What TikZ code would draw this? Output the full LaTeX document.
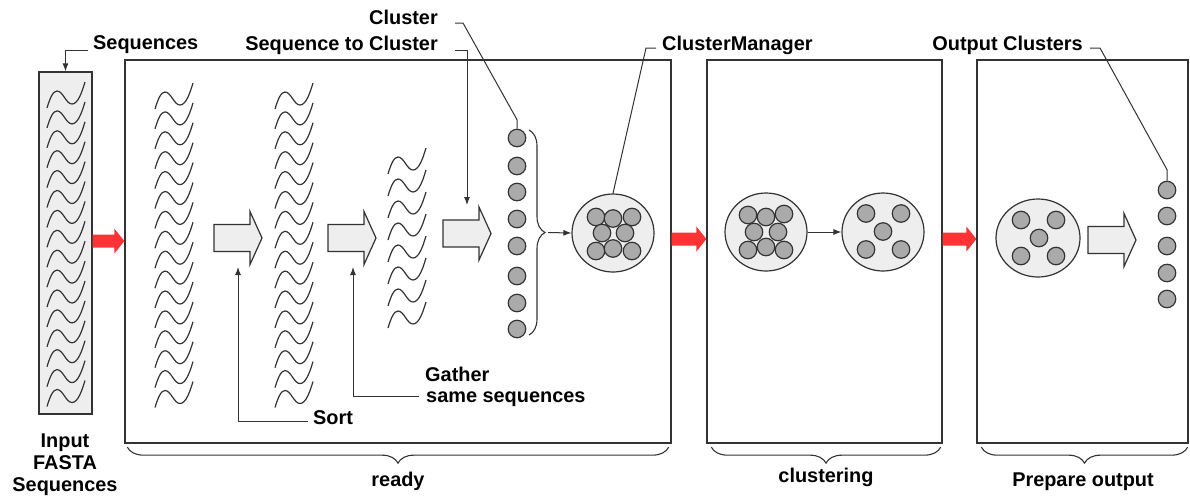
\documentclass[tikz,border=0pt]{standalone}
\usepackage{fontspec}
\setmainfont{Liberation Sans}
\usetikzlibrary{arrows.meta,decorations.pathreplacing,shapes.geometric,calc}

\definecolor{ink}{HTML}{333333}
\definecolor{paper}{HTML}{EEEEEE}
\definecolor{beadgray}{HTML}{AAAAAA}
\definecolor{flow}{HTML}{FF3333}

\tikzset{
  lbl/.style={font=\fontsize{19.9}{22}\selectfont\bfseries, text=black, inner sep=0pt},
  stage/.style={rectangle, draw=ink, line width=1.3pt, fill=white, inner sep=0pt},
  inbox/.style={rectangle, draw=ink, line width=1.3pt, fill=paper, inner sep=0pt},
  bead/.style={circle, draw=ink, fill=beadgray, line width=1.2pt, minimum size=17.5pt, inner sep=0pt},
  pool/.style={ellipse, draw=ink, fill=paper, line width=1.2pt, minimum width=82pt, minimum height=78pt, inner sep=0pt},
  lead/.style={draw=ink, line width=1pt},
  tip/.style={-{Latex[length=8pt,width=6pt]}},
  bigarrow/.style={draw=ink, fill=paper, line width=1.2pt, line join=miter},
  wavestroke/.style={draw=ink, line width=1.2pt},
  curly/.style={draw=ink, line width=1.1pt, decorate, decoration={brace, amplitude=16pt}},
  flowto/.style={to path={let \p1=(\tikztostart), \p2=(\tikztotarget) in
    (\x1,{\y1+6.5pt}) -- ({\x2-10pt},{\y1+6.5pt}) -- ({\x2-10pt},{\y1+12.5pt}) -- (\x2,\y1)
    -- ({\x2-10pt},{\y1-12.5pt}) -- ({\x2-10pt},{\y1-6.5pt}) -- (\x1,{\y1-6.5pt}) -- cycle}},
  wave/.pic={\path[wavestroke] (0,26) .. controls (3,16) and (6,9) .. (10,9)
    .. controls (16,9) and (19,22) .. (25,22) .. controls (31,22) and (35,10) .. (38,0);},
  blockarrow/.pic={\path[bigarrow] (-48,-13.5) -- (-12,-13.5) -- (-12,-26.5) -- (0,0)
    -- (-12,26.5) -- (-12,13.5) -- (-48,13.5) -- cycle;}
}

\begin{document}
\begin{tikzpicture}[x=1pt,y=-1pt]
\useasboundingbox (0,0) rectangle (1190,499);

% stage frames
\node[inbox, minimum width=53pt, minimum height=342pt] (input) at (65.5,243) {};
\node[stage, minimum width=546pt, minimum height=383pt] (ready) at (398,251.5) {};
\node[stage, minimum width=235pt, minimum height=383pt] (clus) at (824.5,251.5) {};
\node[stage, minimum width=211pt, minimum height=383pt] (outp) at (1082.5,251.5) {};

% raw sequences
\foreach \k in {0,...,15} {
  \pic at (47,{82+19.9*\k}) {wave};
  \pic at (155,{83+19.9*\k}) {wave};
  \pic at (275,{83+19.9*\k}) {wave};
}
\foreach \k in {0,...,7} {
  \pic at (388,{148+22*\k}) {wave};
}

% processing arrows
\pic at (262,238) {blockarrow};
\pic at (376,238) {blockarrow};
\pic at (491,233.5) {blockarrow};
\pic at (1136,240) {blockarrow};
\coordinate (a1bot) at (238,267);
\coordinate (a2bot) at (353,267);
\coordinate (a3top) at (467,205);

% flow between stages
\coordinate (r1) at (0,241);
\coordinate (r2) at (0,239);
\fill[flow] (input.east |- r1) to[flowto] (ready.west |- r1);
\fill[flow] (ready.east |- r2) to[flowto] (clus.west |- r2);
\fill[flow] (clus.east |- r2) to[flowto] (outp.west |- r2);

% cluster column
\foreach \i/\y in {1/138,2/166,3/192,4/219,5/246,6/276,7/303,8/329}
  \node[bead] (c\i) at (517,\y) {};
\draw[curly] (529,130) -- (529,335);
\coordinate (btip) at (548,232.5);

% cluster manager
\node[pool] (cm) at (613,233) {};
\foreach \n/\x/\y in {a/596/217,b/613/218.5,c/632/217,d/602/233,e/625/233,f/596/251,g/613/248.5,h/632/251}
  \node[bead] (cm\n) at (\x,\y) {};
\draw[lead, tip] (btip) -- (cm.west);

% clustering stage
\node[pool] (cl1) at (766,232) {};
\foreach \n/\x/\y in {a/748/215,b/766/217,c/784/214,d/754/232,e/778/232,f/748/250,g/766/247,h/784/250}
  \node[bead] (cl1\n) at (\x,\y) {};
\node[pool] (cl2) at (883,232) {};
\foreach \n/\x/\y in {a/866/213.5,b/901/213.5,c/883/231.5,d/866/249.5,e/901/249.5}
  \node[bead] (cl2\n) at (\x,\y) {};
\draw[lead, tip] (cl1.east) -- (cl2.west);

% output stage
\node[pool, minimum width=84pt] (co) at (1038,238) {};
\foreach \n/\x/\y in {a/1021/220,b/1056/220,c/1039/238,d/1021/256,e/1056/256}
  \node[bead] (co\n) at (\x,\y) {};
\foreach \i/\y in {1/190,2/216,3/246,4/273,5/299}
  \node[bead] (o\i) at (1167,\y) {};

% labels
\node[lbl, anchor=base west] (seqlbl) at (93,49) {Sequences};
\node[lbl, anchor=base east] (clulbl) at (438,24.5) {Cluster};
\node[lbl, anchor=base east] (stclbl) at (438,50) {Sequence to Cluster};
\node[lbl, anchor=base west] (cmlbl) at (662,50) {ClusterManager};
\node[lbl, anchor=base east] (outlbl) at (1083,50) {Output Clusters};
\node[lbl, anchor=base west] (gathlbl) at (425,381) {Gather};
\node[lbl, anchor=base west] (samelbl) at (426,402) {same sequences};
\node[lbl, anchor=base west] (sortlbl) at (313,424) {Sort};
\node[lbl, anchor=north, align=center] (inlbl) at (65,434) {Input\\FASTA\\Sequences};
\node[lbl, anchor=base] (readylbl) at (398,486) {ready};
\node[lbl, anchor=base] (clulblb) at (826,482) {clustering};
\node[lbl, anchor=base] (preplbl) at (1083,486) {Prepare output};

% leaders
\draw[lead, tip] (seqlbl.base west) ++(-5,1) -| (input.north);
\draw[lead] (clulbl.base east) ++(17,-1.5) -- ++(8,0) -- ($(c1.north)+(0,-9)$) -- (c1.north);
\draw[lead, tip] (stclbl.base east) ++(17,0) -| (a3top);
\draw[lead] (cmlbl.base west) ++(-6,-2) -- ++(-10,0) -- (cm.north);
\draw[lead] (outlbl.base east) ++(7,-2) -- ++(10,0) -- ($(o1.north)+(0,-11)$) -- (o1.north);
\draw[lead, tip] (samelbl.base west) ++(-7,-6) -| (a2bot);
\draw[lead, tip] (sortlbl.base west) ++(-5,-3) -| (a1bot);

% stage braces
\draw[curly] ($(ready.south east)+(-3,3.5)$) -- ($(ready.south west)+(3,3.5)$);
\draw[curly] ($(clus.south east)+(-2,3.5)$) -- ($(clus.south west)+(5,3.5)$);
\draw[curly] ($(outp.south east)+(-1,3.5)$) -- ($(outp.south west)+(5,3.5)$);
\end{tikzpicture}
\end{document}
